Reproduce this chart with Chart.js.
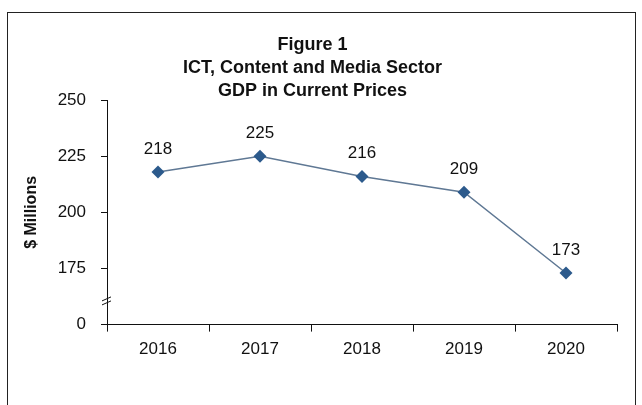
<!DOCTYPE html>
<html>
<head>
<meta charset="utf-8">
<script src="https://cdn.jsdelivr.net/npm/chart.js@4.4.1/dist/chart.umd.min.js"></script>
<style>
  html, body { margin: 0; padding: 0; background: #fff; }
  #wrap { position: relative; width: 642px; height: 405px; }
  #frame { position: absolute; left: 7px; top: 12px; width: 629px; height: 400px; border: 1px solid #222; box-sizing: border-box; pointer-events: none; }
  canvas { position: absolute; left: 0; top: 0; }
</style>
</head>
<body>
<div id="wrap">
  <canvas id="c" width="642" height="405"></canvas>
  <div id="frame"></div>
</div>
<script>
const categories = ['2016', '2017', '2018', '2019', '2020'];
const gdpValues = [218, 225, 216, 209, 173];
const titleLines = ['Figure 1', 'ICT, Content and Media Sector', 'GDP in Current Prices'];
const yAxisTitle = '$ Millions';
const yTickValues = [150, 175, 200, 225, 250];
const yTickLabels = ['0', '175', '200', '225', '250'];
const axisBreakValue = 161;

const FONT = "'Liberation Sans', Arial, sans-serif";

const pointLabels = {
  id: 'pointLabels',
  afterDatasetsDraw(chart) {
    const ctx = chart.ctx;
    const meta = chart.getDatasetMeta(0);
    ctx.save();
    ctx.font = '17px ' + FONT;
    ctx.fillStyle = '#111';
    ctx.textAlign = 'center';
    ctx.textBaseline = 'middle';
    meta.data.forEach((pt, i) => {
      ctx.fillText(String(gdpValues[i]), pt.x, pt.y - 23);
    });
    ctx.restore();
  }
};

const axisBreak = {
  id: 'axisBreak',
  afterDraw(chart) {
    const ctx = chart.ctx;
    const y = chart.scales.y.getPixelForValue(axisBreakValue);
    const x = chart.chartArea.left;
    ctx.save();
    ctx.strokeStyle = '#111';
    ctx.lineWidth = 1;
    ctx.beginPath();
    ctx.moveTo(x - 5, y + 1); ctx.lineTo(x + 4, y - 3);
    ctx.moveTo(x - 5, y + 5); ctx.lineTo(x + 4, y + 1);
    ctx.stroke();
    ctx.restore();
  }
};

new Chart(document.getElementById('c'), {
  type: 'line',
  data: {
    labels: categories,
    datasets: [{
      data: gdpValues,
      borderColor: '#5f7894',
      borderWidth: 1.5,
      pointStyle: 'rectRot',
      pointRadius: 6.5,
      pointBackgroundColor: '#2c5a8c',
      pointBorderColor: '#2c5a8c',
      pointBorderWidth: 0,
      tension: 0
    }]
  },
  options: {
    responsive: false,
    animation: false,
    devicePixelRatio: 1,
    layout: { padding: { left: 8, right: 25, top: 12, bottom: 37 } },
    plugins: {
      legend: { display: false },
      tooltip: { enabled: false },
      title: {
        display: true,
        text: titleLines,
        color: '#111',
        font: { family: FONT, size: 18, weight: 'bold', lineHeight: 1.3 },
        padding: { top: 21, bottom: -3 }
      }
    },
    scales: {
      x: {
        offset: true,
        grid: { offset: true, drawOnChartArea: false, drawTicks: true, tickLength: 7, color: '#111' },
        border: { display: true, color: '#111', width: 1 },
        ticks: { color: '#111', font: { family: FONT, size: 17 }, padding: 8, maxRotation: 0 }
      },
      y: {
        min: 150, max: 250,
        afterBuildTicks(scale) { scale.ticks = yTickValues.map(v => ({ value: v })); },
        afterFit(scale) { scale.width = 99; },
        grid: { drawOnChartArea: false, drawTicks: true, tickLength: 6, color: '#111' },
        border: { display: true, color: '#111', width: 1 },
        ticks: {
          color: '#111',
          font: { family: FONT, size: 17 },
          padding: 15,
          callback(v) { const i = yTickValues.indexOf(v); return i >= 0 ? yTickLabels[i] : ''; }
        },
        title: {
          display: true,
          text: yAxisTitle,
          color: '#111',
          font: { family: FONT, size: 16, weight: 'bold' },
          padding: { top: 14, bottom: 0 }
        }
      }
    }
  },
  plugins: [pointLabels, axisBreak]
});
</script>
</body>
</html>
